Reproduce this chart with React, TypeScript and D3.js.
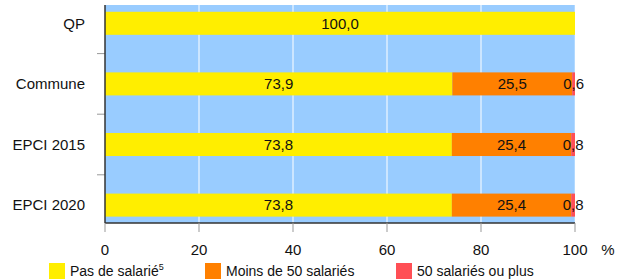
import { scaleBand, scaleLinear } from "d3";

const categories = ["QP", "Commune", "EPCI 2015", "EPCI 2020"];
const pasDeSalarie = [100.0, 73.9, 73.8, 73.8];
const moinsDe50 = [0, 25.5, 25.4, 25.4];
const plusDe50 = [0, 0.6, 0.8, 0.8];
const xTicks = [0, 20, 40, 60, 80, 100];

const seriesNames = ["Pas de salarié", "Moins de 50 salariés", "50 salariés ou plus"];
const colors = ["#ffee00", "#ff8000", "#ff4f55"];

const fmt = (v: number) => v.toFixed(1).replace(".", ",");

export default function App() {
  const width = 629;
  const height = 279;
  const plot = { left: 105, right: 575, top: 5, bottom: 223 };

  const x = scaleLinear().domain([0, 100]).range([plot.left, plot.right]);
  const y = scaleBand<string>()
    .domain(categories)
    .range([-7, 235.4])
    .paddingInner(0.62)
    .paddingOuter(0.31);

  const series = [pasDeSalarie, moinsDe50, plusDe50];
  const font = "'Liberation Sans', Arial, sans-serif";

  return (
    <svg
      width={width}
      height={height}
      style={{ position: "absolute", left: 0, top: 0 }}
      fontFamily={font}
    >
      <rect
        x={plot.left}
        y={plot.top}
        width={plot.right - plot.left}
        height={plot.bottom - plot.top}
        fill="#99ccff"
      />
      {xTicks.slice(1).map((t) => (
        <line
          key={`g${t}`}
          x1={x(t)}
          x2={x(t)}
          y1={plot.top}
          y2={plot.bottom}
          stroke="#ffffff"
          strokeOpacity={t === 100 ? 0.5 : 1}
          strokeWidth={1}
        />
      ))}

      {categories.map((cat, i) => {
        let acc = 0;
        const band = y(cat) ?? 0;
        const bh = y.bandwidth();
        return (
          <g key={cat}>
            {series.map((s, k) => {
              const v = s[i];
              if (!v) return null;
              const x0 = x(acc);
              acc += v;
              const x1 = x(acc);
              return (
                <g key={k}>
                  <rect x={x0} y={band} width={x1 - x0} height={bh} fill={colors[k]} />
                  <text
                    x={(x0 + x1) / 2}
                    y={band + bh / 2}
                    dy="0.35em"
                    textAnchor="middle"
                    fontSize={15}
                    fill="#111"
                  >
                    {fmt(v)}
                  </text>
                </g>
              );
            })}
            <text
              x={85}
              y={band + bh / 2}
              dy="0.35em"
              textAnchor="end"
              fontSize={15}
              fill="#111"
            >
              {cat}
            </text>
          </g>
        );
      })}

      {categories.slice(1).map((cat) => {
        const yy = (y(cat) ?? 0) - (y.step() * y.paddingInner()) / 2;
        return (
          <line key={`t${cat}`} x1={97} x2={plot.left} y1={yy} y2={yy} stroke="#999" />
        );
      })}

      <line x1={plot.left} x2={plot.left} y1={plot.top} y2={plot.bottom} stroke="#333" strokeWidth={1.5} />
      <line x1={plot.left} x2={plot.right} y1={plot.bottom} y2={plot.bottom} stroke="#333" strokeWidth={1.5} />

      {xTicks.map((t) => (
        <g key={`x${t}`}>
          <line x1={x(t)} x2={x(t)} y1={plot.bottom} y2={plot.bottom + 9} stroke="#999" />
          <text x={x(t)} y={255} textAnchor="middle" fontSize={15} fill="#111">
            {t}
          </text>
        </g>
      ))}
      <text x={608} y={255} textAnchor="middle" fontSize={15} fill="#111">
        %
      </text>

      {[49, 205, 396].map((lx, k) => (
        <g key={`l${k}`}>
          <rect x={lx} y={263} width={16} height={16} fill={colors[k]} />
          <text x={lx + 21} y={276} fontSize={14} fill="#111">
            {seriesNames[k]}
            {k === 0 && (
              <tspan fontSize={9} dy={-6}>
                5
              </tspan>
            )}
          </text>
        </g>
      ))}
    </svg>
  );
}
